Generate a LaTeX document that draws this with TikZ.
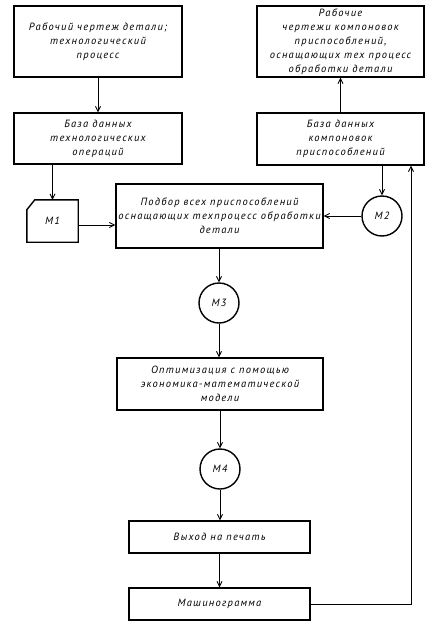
\documentclass[tikz,border=0pt]{standalone}
\usepackage{fontspec}
\setmainfont{PT Sans}
\usetikzlibrary{arrows.meta}

\tikzset{
  txt/.style={font=\itshape\fontsize{10.5}{14}\selectfont\addfontfeatures{LetterSpace=12}},
  block/.style={draw, line width=1.4pt, align=center, inner sep=1pt, txt},
  model/.style={circle, draw, line width=1.4pt, minimum size=40pt, inner sep=0pt, txt},
  flow/.style={line width=0.9pt, -{Straight Barb[length=5pt,width=5pt]}}
}

\begin{document}
\begin{tikzpicture}[x=1pt, y=-1pt]
  % Frame
  \fill[white] (0,0) rectangle (433,629);
  \useasboundingbox (0,0) rectangle (433,629);
  % Left column
  \node[block, minimum width=168pt, minimum height=71pt] (drawing) at (98,41.5)
    {Рабочий чертеж детали;\\технологический\\процесс};
  \node[block, minimum width=168pt, minimum height=51pt] (techdb) at (98,138.5)
    {База данных\\технологических\\операций};
  % Right column
  \node[block, minimum width=167pt, minimum height=71pt] (layouts) at (340.5,41.5)
    {Рабочие\\чертежи компоновок\\приспособлений,\\оснащающих тех процесс\\обработки детали};
  \node[block, minimum width=167pt, minimum height=52pt] (fixdb) at (340.5,139)
    {База данных\\компоновок\\приспособлений};
  % Selection
  \node[block, minimum width=207pt, minimum height=64pt] (select) at (219.5,216)
    {Подбор всех приспособлений\\оснащающих техпроцесс обработки\\детали};
  % Card M1
  \node[txt, minimum width=51pt, minimum height=42pt, inner sep=0pt] (m1) at (52.5,221) {М1};
  \draw[line width=1.4pt] ([xshift=8pt]m1.north west) -- (m1.north east) -- (m1.south east)
    -- (m1.south west) -- ([yshift=-10pt]m1.north west) -- cycle;
  % Models
  \node[model] (m2) at (382,216) {М2};
  \node[model] (m3) at (219,303) {М3};
  \node[model] (m4) at (220,469) {М4};
  % Lower chain
  \node[block, minimum width=206pt, minimum height=52pt] (optim) at (220,384)
    {Оптимизация с помощью\\экономика-математической\\модели};
  \node[block, minimum width=181pt, minimum height=32pt] (print) at (219.5,537)
    {Выход на печать};
  \node[block, minimum width=181pt, minimum height=32pt] (chart) at (219.5,604)
    {Машинограмма};
  \coordinate (turn) at (411,604);
  % Connectors
  \draw[flow] (drawing) -- (techdb);
  \draw[flow] (fixdb) -- (layouts);
  \draw[flow] (techdb.south -| m1.north) -- (m1.north);
  \draw[flow] (fixdb.south -| m2.north) -- (m2.north);
  \draw[flow] ([yshift=-4pt]m1.east) -- ([yshift=-4pt]m1.east -| select.west);
  \draw[flow] (m2.west) -- (m2.west -| select.east);
  \draw[flow] (select.south -| m3.north) -- (m3.north);
  \draw[flow] (m3) -- (m3 |- optim.north);
  \draw[flow] (optim.south -| m4.north) -- (m4.north);
  \draw[flow] (m4) -- (m4 |- print.north);
  \draw[flow] (print) -- (chart);
  \draw[flow] (chart.east) -- (turn) -- (turn |- fixdb.south);
\end{tikzpicture}
\end{document}
